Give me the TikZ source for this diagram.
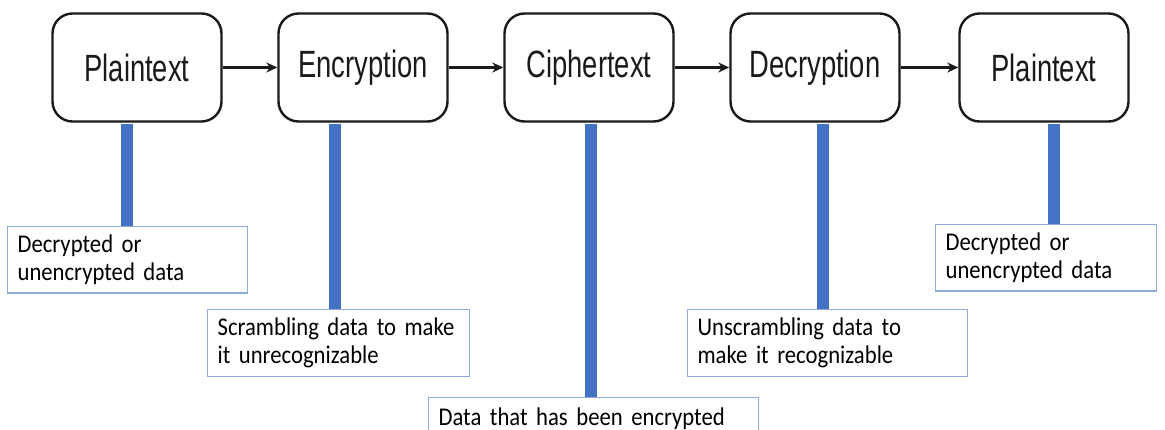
\documentclass[tikz,border=0pt]{standalone}
\usepackage{fontspec}
\setmainfont{Carlito}[FakeStretch=0.89]
\newfontfamily\boxfont{Liberation Sans}[FakeStretch=0.72]
\usetikzlibrary{arrows.meta}
\definecolor{barblue}{HTML}{4472C4}
\definecolor{edgeblue}{HTML}{8FAADC}
\definecolor{ink}{HTML}{1A1A1A}
\begin{document}
\begin{tikzpicture}[x=1pt,y=-1pt,
  stage/.style={draw=ink, line width=2.4pt, rounded corners=20pt, fill=white,
    minimum width=169pt, minimum height=108pt, inner sep=0pt,
    font=\boxfont\fontsize{38}{40}\selectfont, text=ink},
  flow/.style={draw=ink, line width=2.2pt, -{Stealth[length=11pt,width=10pt]}},
  bar/.style={draw=barblue, line width=12pt},
  note/.style={draw=edgeblue, line width=1.2pt, fill=white, anchor=north west,
    align=left, inner xsep=10pt, inner ysep=8pt,
    font=\fontsize{25.5}{28.5}\selectfont, text=black}]
\useasboundingbox (0,0) rectangle (1165,430);
\fill[white] (0,0) rectangle (1165,430);

% stages
\node[stage] (p1) at (137,67.5) {Plaintext};
\node[stage] (en) at (363,67.5) {Encryption};
\node[stage] (ci) at (589,67.5) {Ciphertext};
\node[stage] (de) at (815,67.5) {Decryption};
\node[stage] (p2) at (1044,67.5) {Plaintext};

\draw[flow] (p1) -- (en);
\draw[flow] (en) -- (ci);
\draw[flow] (ci) -- (de);
\draw[flow] (de) -- (p2);

% notes
\node[note, text width=220pt] (n1) at (7,226) {\mbox{Decrypted or}\\\mbox{unencrypted data}};
\node[note, text width=242pt] (n2) at (207,309) {\mbox{Scrambling data to make}\\\mbox{it unrecognizable}};
\node[note, text width=310pt, minimum height=42pt] (n3) at (428,397) {\mbox{Data that has been encrypted}};
\node[note, text width=260pt] (n4) at (687,309) {\mbox{Unscrambling data to}\\\mbox{make it recognizable}};
\node[note, text width=201pt] (n5) at (935,224) {\mbox{Decrypted or}\\\mbox{unencrypted data}};

% bar positions
\coordinate (b1) at (127,0);
\coordinate (b2) at (335,0);
\coordinate (b3) at (591,0);
\coordinate (b4) at (823,0);
\coordinate (b5) at (1054,0);

\draw[bar] ([yshift=-1.2pt]p1.south -| b1) -- (n1.north -| b1);
\draw[bar] ([yshift=-1.2pt]en.south -| b2) -- (n2.north -| b2);
\draw[bar] ([yshift=-1.2pt]ci.south -| b3) -- (n3.north -| b3);
\draw[bar] ([yshift=-1.2pt]de.south -| b4) -- (n4.north -| b4);
\draw[bar] ([yshift=-1.2pt]p2.south -| b5) -- (n5.north -| b5);
\end{tikzpicture}
\end{document}
